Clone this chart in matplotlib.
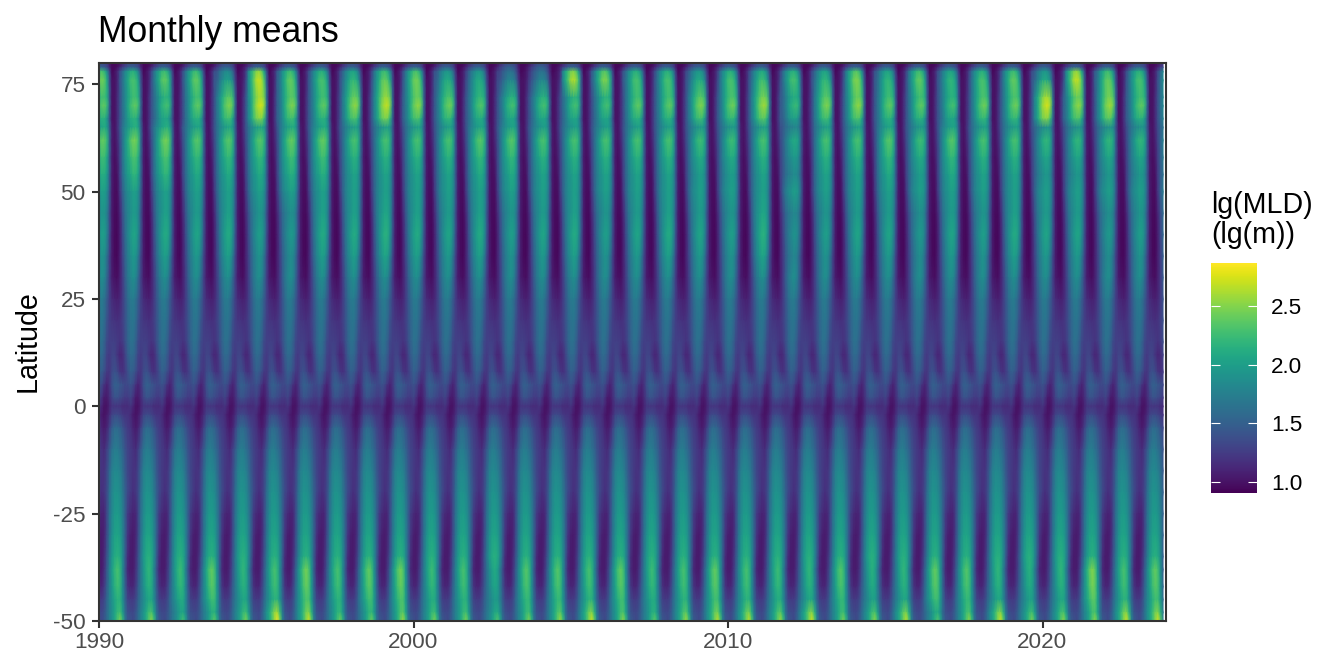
import numpy as np
import matplotlib
matplotlib.use("Agg")
import matplotlib.pyplot as plt

plt.rcParams['font.family'] = ['Liberation Sans', 'DejaVu Sans']

latitudes = [80, 79, 78, 76, 72, 70, 67, 65, 62, 58, 54, 50, 45, 40, 35, 30, 25, 20, 15, 12, 8, 5, 2, 0,
             -2, -5, -10, -15, -20, -25, -30, -35, -38, -42, -45, -48, -50]
# typical seasonal cycle, Jan..Dec, one row per latitude
seasonal_cycle = [
    [1.35, 1.35, 1.30, 1.25, 1.05, 0.95, 0.95, 0.95, 1.00, 1.10, 1.20, 1.30],
    [1.50, 1.50, 1.45, 1.35, 1.10, 0.95, 0.95, 1.00, 1.10, 1.25, 1.35, 1.45],
    [2.15, 2.20, 2.10, 1.80, 1.30, 0.95, 1.00, 1.10, 1.35, 1.60, 1.85, 2.00],
    [2.30, 2.35, 2.30, 2.05, 1.40, 1.00, 1.00, 1.10, 1.40, 1.65, 1.90, 2.10],
    [2.20, 2.30, 2.30, 2.20, 1.50, 1.00, 1.00, 1.15, 1.40, 1.65, 1.85, 2.05],
    [2.30, 2.40, 2.45, 2.30, 1.55, 1.00, 1.00, 1.15, 1.40, 1.65, 1.85, 2.10],
    [2.15, 2.20, 2.20, 2.00, 1.45, 1.00, 1.00, 1.15, 1.40, 1.62, 1.80, 2.00],
    [1.95, 2.00, 2.05, 1.95, 1.50, 1.05, 1.00, 1.15, 1.40, 1.60, 1.75, 1.85],
    [2.25, 2.35, 2.35, 2.20, 1.55, 1.05, 1.00, 1.10, 1.35, 1.60, 1.85, 2.05],
    [2.10, 2.20, 2.20, 2.05, 1.50, 1.05, 0.98, 1.05, 1.30, 1.58, 1.82, 1.98],
    [1.98, 2.08, 2.08, 1.95, 1.50, 1.05, 0.98, 1.00, 1.28, 1.55, 1.75, 1.90],
    [1.92, 2.00, 2.00, 1.88, 1.48, 1.05, 0.97, 0.98, 1.22, 1.50, 1.72, 1.85],
    [1.90, 1.98, 1.98, 1.85, 1.42, 1.05, 0.96, 0.96, 1.12, 1.40, 1.65, 1.80],
    [1.98, 2.08, 2.08, 1.88, 1.42, 1.05, 0.96, 0.95, 1.08, 1.35, 1.62, 1.82],
    [1.88, 1.98, 1.95, 1.72, 1.33, 1.05, 0.96, 0.95, 1.08, 1.30, 1.55, 1.75],
    [1.80, 1.88, 1.82, 1.58, 1.28, 1.05, 1.00, 0.98, 1.08, 1.25, 1.48, 1.68],
    [1.70, 1.72, 1.65, 1.48, 1.28, 1.15, 1.10, 1.08, 1.12, 1.25, 1.42, 1.58],
    [1.65, 1.68, 1.60, 1.42, 1.28, 1.22, 1.20, 1.18, 1.20, 1.28, 1.40, 1.55],
    [1.62, 1.62, 1.52, 1.35, 1.28, 1.28, 1.28, 1.25, 1.20, 1.25, 1.38, 1.52],
    [1.58, 1.58, 1.48, 1.30, 1.25, 1.30, 1.30, 1.20, 1.12, 1.15, 1.30, 1.48],
    [1.50, 1.48, 1.38, 1.25, 1.22, 1.35, 1.40, 1.35, 1.22, 1.18, 1.25, 1.38],
    [1.40, 1.35, 1.20, 1.10, 1.20, 1.40, 1.50, 1.50, 1.45, 1.40, 1.35, 1.35],
    [1.30, 1.20, 1.05, 1.05, 1.15, 1.30, 1.40, 1.40, 1.35, 1.30, 1.25, 1.25],
    [1.20, 1.12, 1.00, 1.00, 1.10, 1.20, 1.20, 1.20, 1.20, 1.15, 1.15, 1.15],
    [1.15, 1.05, 1.00, 1.05, 1.15, 1.30, 1.35, 1.35, 1.30, 1.25, 1.20, 1.20],
    [1.20, 1.10, 1.05, 1.10, 1.28, 1.48, 1.58, 1.58, 1.52, 1.42, 1.32, 1.25],
    [1.25, 1.20, 1.15, 1.28, 1.45, 1.65, 1.72, 1.72, 1.65, 1.55, 1.40, 1.30],
    [1.25, 1.20, 1.20, 1.33, 1.55, 1.75, 1.82, 1.82, 1.77, 1.62, 1.45, 1.32],
    [1.25, 1.18, 1.22, 1.35, 1.60, 1.80, 1.90, 1.90, 1.85, 1.70, 1.50, 1.35],
    [1.15, 1.10, 1.12, 1.33, 1.62, 1.82, 1.95, 1.98, 1.92, 1.75, 1.50, 1.25],
    [1.08, 1.05, 1.10, 1.35, 1.65, 1.88, 2.02, 2.05, 2.00, 1.80, 1.50, 1.20],
    [1.05, 1.05, 1.15, 1.40, 1.70, 1.95, 2.10, 2.15, 2.10, 1.85, 1.48, 1.15],
    [1.05, 1.05, 1.18, 1.45, 1.75, 2.00, 2.20, 2.30, 2.20, 1.85, 1.45, 1.12],
    [1.12, 1.12, 1.25, 1.50, 1.75, 1.95, 2.15, 2.25, 2.20, 1.88, 1.50, 1.20],
    [1.25, 1.25, 1.33, 1.55, 1.75, 1.90, 2.05, 2.15, 2.15, 1.90, 1.55, 1.30],
    [1.35, 1.33, 1.42, 1.60, 1.80, 1.95, 2.12, 2.30, 2.35, 2.08, 1.65, 1.40],
    [1.40, 1.35, 1.45, 1.60, 1.80, 1.95, 2.15, 2.40, 2.60, 2.30, 1.70, 1.45],
]
# winter peak of each year 1990..2023, read per latitude band
peak_n76 = [2.45, 2.30, 2.40, 2.40, 2.00, 2.70, 2.40, 2.30, 2.20, 2.40, 2.45, 2.10, 2.10, 1.80, 1.80, 2.65, 2.50,
            2.30, 2.30, 2.10, 2.30, 2.25, 2.30, 2.20, 2.50, 2.20, 2.40, 2.20, 2.30, 2.40, 2.10, 2.70, 2.40, 2.30]
peak_n70 = [2.40, 2.40, 2.30, 2.40, 2.50, 2.75, 2.50, 2.40, 2.55, 2.70, 2.55, 2.45, 2.35, 2.30, 2.30, 2.30, 2.30,
            2.40, 2.40, 2.50, 2.45, 2.60, 2.25, 2.50, 2.55, 2.40, 2.40, 2.30, 2.45, 2.45, 2.75, 2.55, 2.60, 2.40]
peak_n62 = [2.40, 2.45, 2.45, 2.35, 2.35, 2.35, 2.40, 2.40, 2.30, 2.30, 2.30, 2.30, 2.35, 2.35, 2.30, 2.30, 2.30,
            2.30, 2.30, 2.25, 2.25, 2.30, 2.10, 2.30, 2.30, 2.35, 2.25, 2.35, 2.30, 2.30, 2.20, 2.20, 2.20, 2.20]
peak_n40 = [2.00, 2.05, 2.10, 2.05, 2.10, 2.00, 1.95, 2.10, 2.10, 2.15, 2.10, 2.05, 2.10, 2.00, 2.05, 2.10, 2.00,
            2.05, 2.10, 2.05, 2.00, 2.15, 1.90, 2.00, 2.05, 2.05, 1.95, 2.05, 2.00, 2.10, 2.05, 2.05, 1.95, 2.00]
peak_s43 = [2.30, 2.20, 2.25, 2.40, 2.20, 2.30, 2.45, 2.30, 2.40, 2.45, 2.25, 2.30, 2.10, 2.35, 2.35, 2.30, 2.40,
            2.25, 2.30, 2.40, 2.30, 2.25, 2.20, 2.35, 2.15, 2.20, 2.40, 2.35, 2.20, 2.15, 2.20, 2.50, 2.30, 2.40]
peak_s50 = [2.50, 2.55, 2.30, 2.40, 2.50, 2.85, 2.75, 2.45, 2.45, 2.60, 2.50, 2.50, 2.35, 2.50, 2.60, 2.75, 2.55,
            2.40, 2.60, 2.70, 2.70, 2.60, 2.75, 2.50, 2.55, 2.70, 2.35, 2.55, 2.75, 2.50, 2.55, 2.55, 2.75, 2.75]
start_year = 1990
n_months = 407
x_ticks = [1990, 2000, 2010, 2020]
y_ticks = [-50, -25, 0, 25, 50, 75]
y_labels = ['-50', '-25', '0', '25', '50', '75']
legend_ticks = [1.0, 1.5, 2.0, 2.5]
value_limits = (0.906, 2.87)

W, H = 1344, 672
clim = np.array(seasonal_cycle)
lat = np.array(latitudes, dtype=float)
time = start_year + np.arange(n_months) / 12

bands = [(peak_n76, [78, 76], 2.35), (peak_n70, [72, 70, 67], 2.45), (peak_n62, [65, 62, 58, 54], 2.35),
         (peak_n40, [45, 40, 35], 2.08), (peak_s43, [-38, -42, -45], 2.3), (peak_s50, [-48, -50], 2.6)]

grid = np.zeros((len(lat), n_months))
for m in range(n_months):
    grid[:, m] = clim[:, m % 12]
for peaks, rows, ref in bands:
    for r in rows:
        i = latitudes.index(r)
        low, high = clim[i].min(), clim[i].max()
        for m in range(n_months):
            month = m % 12
            yr = m // 12
            if r > 0 and month >= 9:
                yr = min(yr + 1, len(peaks) - 1)
            grid[i, m] += (peaks[yr] - ref) * (clim[i, month] - low) / (high - low)

fig = plt.figure(figsize=(W / 100, H / 100), dpi=100)
ax = fig.add_axes([99 / W, 1 - 621 / H, (1166 - 99) / W, (621 - 63) / H])
mesh = ax.pcolormesh(time, lat, grid, cmap='viridis', vmin=value_limits[0], vmax=value_limits[1],
                     shading='gouraud', rasterized=True)
ax.set_xlim(1990, 1990 + (1166 - 99) / 31.45)
ax.set_ylim(-50, 80)
ax.set_xticks(x_ticks)
ax.set_yticks(y_ticks)
ax.set_yticklabels(y_labels)
ax.tick_params(length=5, width=1.5, color='#333333', labelcolor='#4D4D4D', labelsize=16.2)
ax.tick_params(axis='y', pad=4.5)
ax.tick_params(axis='x', pad=3)
for s in ax.spines.values():
    s.set_color('#333333')
    s.set_linewidth(1.5)
fig.text(28 / W, 1 - 341 / H, 'Latitude', fontsize=20.6, color='black', rotation=90, ha='center', va='center')
fig.text(98 / W, 1 - 42 / H, 'Monthly means', fontsize=25.6, color='black', ha='left', va='baseline')

cax = fig.add_axes([1211 / W, 1 - 493 / H, (1257 - 1211) / W, (493 - 263) / H])
cbar = fig.colorbar(mesh, cax=cax, ticks=legend_ticks)
cbar.outline.set_visible(False)
cbar.ax.set_yticklabels([f'{t:.1f}' for t in legend_ticks])
cax.tick_params(direction='in', length=6.5, width=0.8, color='white', left=True, right=True,
                labelright=True, labelleft=False, labelsize=16.2, labelcolor='black', pad=10)
fig.text(1211 / W, 1 - 213 / H, 'lg(MLD)', fontsize=20.6, ha='left', va='baseline')
fig.text(1211 / W, 1 - 243 / H, '(lg(m))', fontsize=20.6, ha='left', va='baseline')

fig.savefig('out.png', dpi=100)
